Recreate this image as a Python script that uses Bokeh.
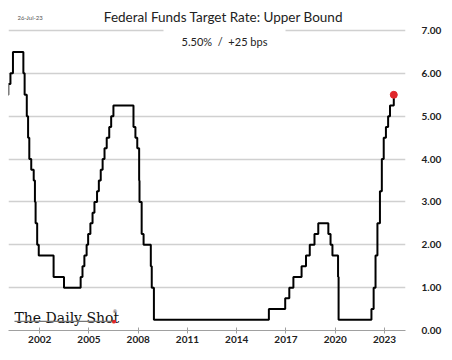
import pandas as pd
from bokeh.plotting import figure
from bokeh.models import Range1d, FixedTicker, Label, BoxAnnotation, NumeralTickFormatter
from bokeh.embed import file_html
from bokeh.resources import INLINE

# ---- data: Federal Funds target rate, upper bound (change dates) ----
change_dates = [
    "2000-01-01", "2000-02-02", "2000-03-21", "2000-05-16",
    "2001-01-03", "2001-01-31", "2001-03-20", "2001-04-18", "2001-05-15",
    "2001-06-27", "2001-08-21", "2001-09-17", "2001-10-02", "2001-11-06",
    "2001-12-11", "2002-11-06", "2003-06-25",
    "2004-06-30", "2004-08-10", "2004-09-21", "2004-11-10", "2004-12-14",
    "2005-02-02", "2005-03-22", "2005-05-03", "2005-06-30", "2005-08-09",
    "2005-09-20", "2005-11-01", "2005-12-13", "2006-01-31", "2006-03-28",
    "2006-05-10", "2006-06-29",
    "2007-09-18", "2007-10-31", "2007-12-11", "2008-01-22", "2008-01-30",
    "2008-03-18", "2008-04-30", "2008-10-08", "2008-10-29", "2008-12-16",
    "2015-12-17", "2016-12-15", "2017-03-16", "2017-06-15", "2017-12-14",
    "2018-03-22", "2018-06-14", "2018-09-27", "2018-12-20",
    "2019-08-01", "2019-09-19", "2019-10-31", "2020-03-04", "2020-03-16",
    "2022-03-17", "2022-05-05", "2022-06-16", "2022-07-28", "2022-09-22",
    "2022-11-03", "2022-12-15", "2023-02-02", "2023-03-23", "2023-05-04",
    "2023-07-27",
]
upper_bound = [
    5.50, 5.75, 6.00, 6.50,
    6.00, 5.50, 5.00, 4.50, 4.00,
    3.75, 3.50, 3.00, 2.50, 2.00,
    1.75, 1.25, 1.00,
    1.25, 1.50, 1.75, 2.00, 2.25,
    2.50, 2.75, 3.00, 3.25, 3.50,
    3.75, 4.00, 4.25, 4.50, 4.75,
    5.00, 5.25,
    4.75, 4.50, 4.25, 3.50, 3.00,
    2.25, 2.00, 1.50, 1.00, 0.25,
    0.50, 0.75, 1.00, 1.25, 1.50,
    1.75, 2.00, 2.25, 2.50,
    2.25, 2.00, 1.75, 1.25, 0.25,
    0.50, 1.00, 1.75, 2.50, 3.25,
    4.00, 4.50, 4.75, 5.00, 5.25,
    5.50,
]
year_ticks = [2002, 2005, 2008, 2011, 2014, 2017, 2020, 2023]
rate_ticks = [0, 1, 2, 3, 4, 5, 6, 7]
title_text = "Federal Funds Target Rate: Upper Bound"
subtitle_text = "5.50%\u00a0\u00a0/\u00a0\u00a0+25 bps"
date_text = "26-Jul-23"
logo_text = "The Daily Shot"

# decimal years
d = pd.to_datetime(change_dates)
days_in_year = [366 if (y % 4 == 0 and (y % 100 != 0 or y % 400 == 0)) else 365 for y in d.year]
xs = [float(y) + (doy - 1) / n for y, doy, n in zip(d.year, d.dayofyear, days_in_year)]

FONT = "Lato"
TXT = "#222222"
GRID = "#d0d0d0"

p = figure(width=452, height=360, output_backend="svg", toolbar_location=None,
           x_range=Range1d(2000.1, 2024.28), y_range=Range1d(0, 7.70),
           y_axis_location="right",
           min_border_left=8, min_border_top=0, min_border_right=47, min_border_bottom=30)
p.outline_line_color = None
p.background_fill_color = "white"
p.border_fill_color = "white"

# grid: horizontal rules at each rate tick, drawn as glyphs beneath the series
p.xgrid.grid_line_color = None
p.ygrid.grid_line_color = None
p.hspan(y=rate_ticks[1:], line_color=GRID, line_width=1.5)

# y axis (right)
yax = p.yaxis[0]
yax.ticker = FixedTicker(ticks=rate_ticks)
yax.formatter = NumeralTickFormatter(format="0.00")
yax.axis_line_color = None
yax.major_tick_line_color = None
yax.minor_tick_line_color = None
yax.major_label_standoff = 10
yax.major_label_text_font = FONT
yax.major_label_text_font_style = "bold"
yax.major_label_text_font_size = "10px"
yax.major_label_text_color = TXT

# x axis
xax = p.xaxis[0]
xax.ticker = FixedTicker(ticks=year_ticks)
xax.axis_line_color = "#a0a0a0"
xax.axis_line_width = 1
xax.major_tick_line_color = "#a0a0a0"
xax.major_tick_in = 3
xax.major_tick_out = 3
xax.minor_tick_line_color = None
xax.major_label_standoff = 2
xax.major_label_text_font = FONT
xax.major_label_text_font_style = "bold"
xax.major_label_text_font_size = "10px"
xax.major_label_text_color = TXT

# series
p.step(xs, upper_bound, mode="after", line_color="black", line_width=2)
p.scatter([xs[-1]], [upper_bound[-1]], size=7, fill_color="#e0262b", line_color="#e0262b")

# annotations (screen units measured from frame bottom-left)
p.add_layout(BoxAnnotation(left=155, right=277, bottom=294, top=306,
                           left_units="screen", right_units="screen",
                           bottom_units="screen", top_units="screen",
                           fill_color="white", fill_alpha=1, line_color=None))
p.add_layout(Label(x=215, y=314, x_units="screen", y_units="screen", text=title_text,
                   text_align="center", text_baseline="alphabetic",
                   text_font=FONT, text_font_size="13.5px", text_color=TXT))
p.add_layout(Label(x=216, y=289, x_units="screen", y_units="screen", text=subtitle_text,
                   text_align="center", text_baseline="alphabetic",
                   text_font=FONT, text_font_size="11px", text_color=TXT))
p.add_layout(Label(x=9, y=313.5, x_units="screen", y_units="screen", text=date_text,
                   text_align="left", text_baseline="alphabetic",
                   text_font=FONT, text_font_size="6px", text_color="#555555"))
p.add_layout(Label(x=6, y=13, x_units="screen", y_units="screen", text=logo_text,
                   text_align="left", text_baseline="alphabetic",
                   text_font="DejaVu Serif", text_font_size="14px", text_color="#111111"))
p.add_layout(Label(x=104, y=20, x_units="screen", y_units="screen", text="®",
                   text_align="left", text_baseline="alphabetic",
                   text_font="DejaVu Sans", text_font_size="5px", text_color="#2a2a2a"))
p.add_layout(BoxAnnotation(left=6, right=104, bottom=8.5, top=9.7,
                           left_units="screen", right_units="screen",
                           bottom_units="screen", top_units="screen",
                           fill_color="#777777", fill_alpha=1, line_color=None))
p.add_layout(Label(x=105.5, y=10, x_units="screen", y_units="screen", text="●",
                   text_align="center", text_baseline="middle",
                   text_font="DejaVu Sans", text_font_size="5px", text_color="#e0262b"))

open("out.html", "w").write(file_html(p, INLINE))
